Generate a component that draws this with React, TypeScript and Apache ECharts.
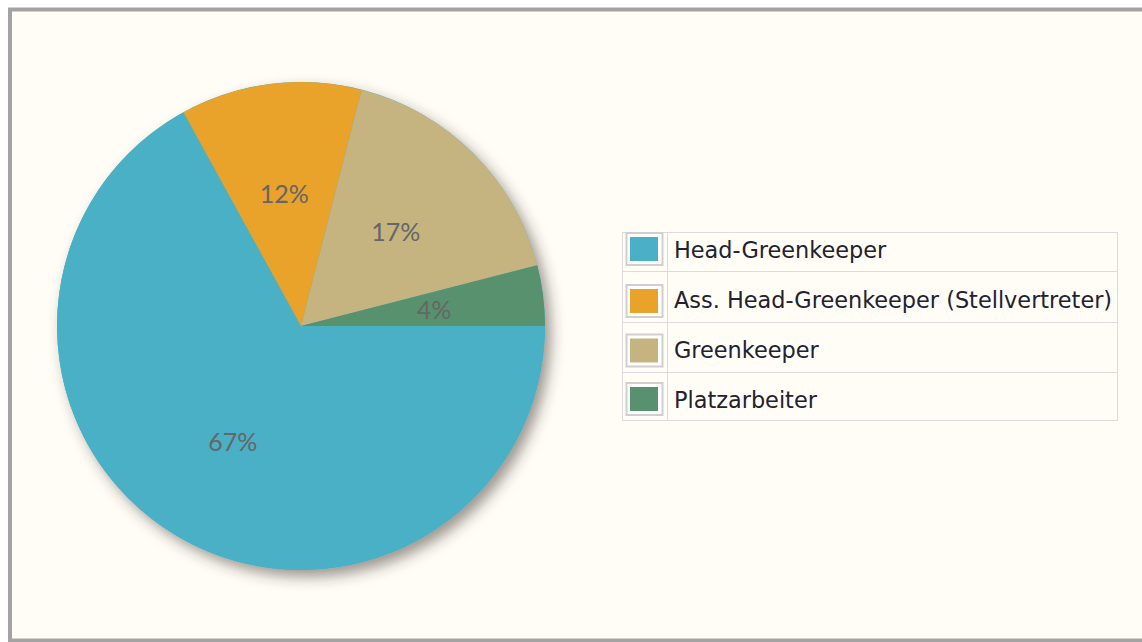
import React, { useEffect, useRef } from "react";
import * as echarts from "echarts";

const categories = [
  "Head-Greenkeeper",
  "Ass. Head-Greenkeeper (Stellvertreter)",
  "Greenkeeper",
  "Platzarbeiter",
];
const shares = [67, 12, 17, 4];
const colors = ["#4ab0c5", "#e9a22a", "#c5b47f", "#58916e"];

// legend table layout (rows)
const rowEdges = [232, 271, 322, 372, 420];

export default function App() {
  const ref = useRef<HTMLDivElement>(null);

  useEffect(() => {
    if (!ref.current) return;
    const chart = echarts.init(ref.current, undefined, { renderer: "svg" });

    const cx = 301;
    const cy = 326;
    const r = 244;

    const legendX0 = 622;
    const legendX1 = 667;
    const legendX2 = 1117;

    const graphics: any[] = [
      {
        type: "rect",
        z: -10,
        shape: { x: 10, y: 9.5, width: 1160, height: 631 },
        style: { fill: "#fffdf6", stroke: "#a3a3a3", lineWidth: 4 },
        silent: true,
      },
    ];

    rowEdges.forEach((y) => {
      graphics.push({
        type: "line",
        shape: { x1: legendX0, y1: y + 0.5, x2: legendX2, y2: y + 0.5 },
        style: { stroke: "#dcdcdc", lineWidth: 1 },
        silent: true,
      });
    });
    [legendX0, legendX1, legendX2].forEach((x) => {
      graphics.push({
        type: "line",
        shape: { x1: x + 0.5, y1: rowEdges[0], x2: x + 0.5, y2: rowEdges[rowEdges.length - 1] + 1 },
        style: { stroke: "#dcdcdc", lineWidth: 1 },
        silent: true,
      });
    });

    const swatchCenters = [249, 301, 350.5, 399];
    const textCenters = [250, 300, 350, 400];
    categories.forEach((name, i) => {
      const sy = swatchCenters[i];
      graphics.push({
        type: "rect",
        shape: { x: 626.5, y: sy - 16, width: 36, height: 32 },
        style: { fill: "#ffffff", stroke: "#cfcfcf", lineWidth: 2 },
        silent: true,
      });
      graphics.push({
        type: "rect",
        shape: { x: 630, y: sy - 12, width: 28, height: 24 },
        style: { fill: colors[i] },
        silent: true,
      });
      graphics.push({
        type: "text",
        x: 674,
        y: textCenters[i],
        style: {
          text: name,
          fill: "#222230",
          font: '22.4px "DejaVu Sans"',
          textVerticalAlign: "middle",
          textAlign: "left",
        },
        silent: true,
      });
    });

    const pieData = categories.map((name, i) => ({
      name,
      value: shares[i],
      itemStyle: { color: colors[i] },
    }));

    chart.setOption({
      animation: false,
      backgroundColor: "#ffffff",
      graphic: { elements: graphics },
      series: [
        {
          type: "pie",
          z: 1,
          silent: true,
          center: [cx, cy],
          radius: r,
          startAngle: 0,
          label: { show: false },
          labelLine: { show: false },
          itemStyle: {
            color: colors[0],
            shadowColor: "rgba(60,50,40,0.5)",
            shadowBlur: 14,
            shadowOffsetX: 6,
            shadowOffsetY: 7,
          },
          data: [{ name: "shadow", value: 1 }],
        },
        {
          type: "pie",
          z: 2,
          silent: true,
          center: [cx, cy],
          radius: r,
          startAngle: 0,
          clockwise: true,
          label: { show: false },
          labelLine: { show: false },
          itemStyle: { borderWidth: 0 },
          data: pieData,
        },
        {
          type: "pie",
          z: 3,
          silent: true,
          center: [cx, cy],
          radius: 262,
          startAngle: 0,
          clockwise: true,
          itemStyle: { color: "rgba(0,0,0,0)", borderWidth: 0 },
          label: {
            show: true,
            position: "inside",
            formatter: "{c}%",
            color: "#666666",
            fontFamily: "Lato",
            fontSize: 25,
          },
          labelLine: { show: false },
          data: categories.map((name, i) => ({ name, value: shares[i] })),
        },
      ],
    });

    return () => chart.dispose();
  }, []);

  return (
    <div
      ref={ref}
      style={{ position: "fixed", left: 0, top: 0, width: 1142, height: 642 }}
    />
  );
}
